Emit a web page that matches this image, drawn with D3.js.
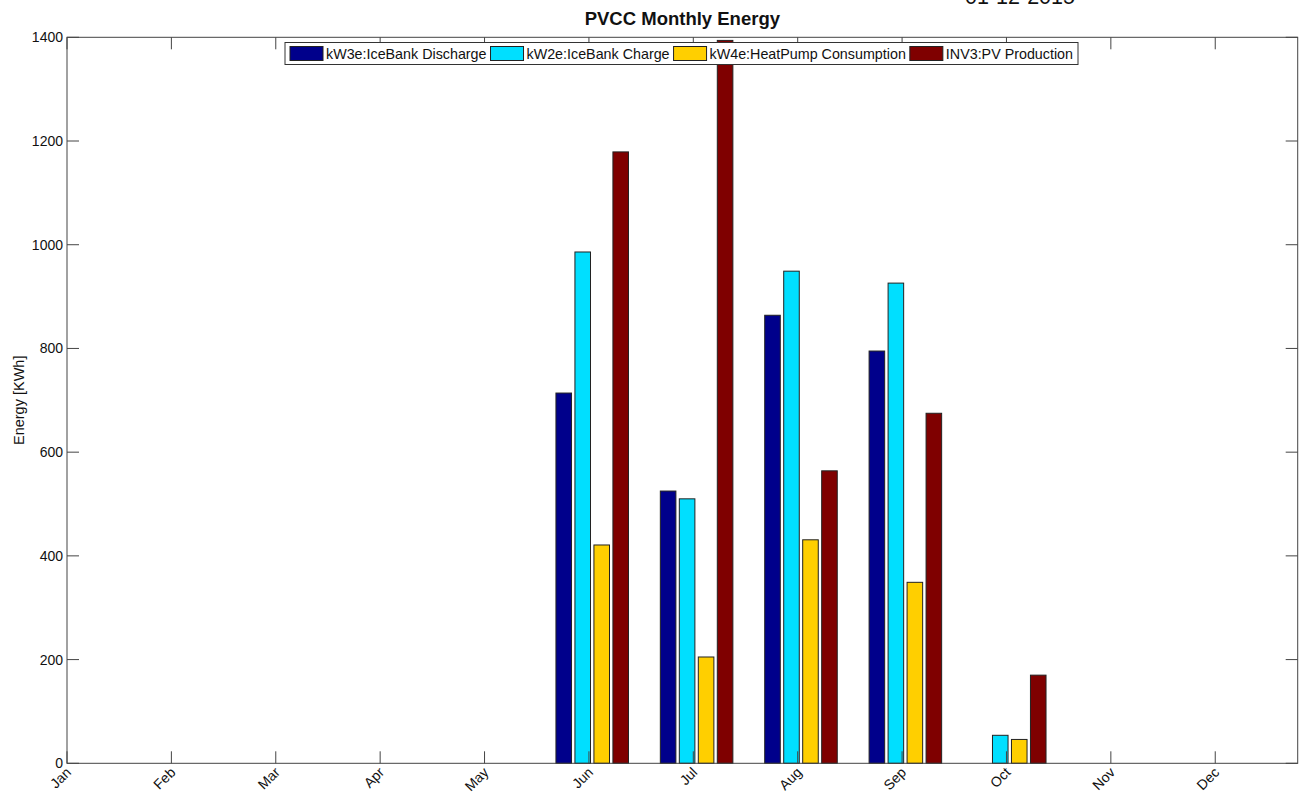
<!DOCTYPE html>
<html>
<head>
<meta charset="utf-8">
<script src="https://cdn.jsdelivr.net/npm/d3@7"></script>
<style>
  body { margin: 0; background: #fff; }
  text { font-family: "Liberation Sans", Arial, sans-serif; }
</style>
</head>
<body>
<script>
// Chart size
let w = 1306;
let h = 794;

// Data
let months = ["Jan", "Feb", "Mar", "Apr", "May", "Jun", "Jul", "Aug", "Sep", "Oct", "Nov", "Dec"];
let seriesNames = ["kW3e:IceBank Discharge", "kW2e:IceBank Charge", "kW4e:HeatPump Consumption", "INV3:PV Production"];
let seriesColors = ["#00008b", "#00dfff", "#ffcf00", "#7f0000"];
let iceDischarge = [0, 0, 0, 0, 0, 714, 525, 864, 795, 0, 0, 0];
let iceCharge = [0, 0, 0, 0, 0, 986, 510, 949, 926, 54, 0, 0];
let heatPump = [0, 0, 0, 0, 0, 421, 205, 431, 349, 46, 0, 0];
let pvProduction = [0, 0, 0, 0, 0, 1179, 1394, 564, 675, 170, 0, 0];
let yTicks = [0, 200, 400, 600, 800, 1000, 1200, 1400];

let allSeries = [iceDischarge, iceCharge, heatPump, pvProduction];

// Plot area
let pLeft = 67, pRight = 1297.7, pTop = 37.3, pBottom = 763.3;

let svg = d3.select("body").append("svg")
    .attr("width", w)
    .attr("height", h);

// month index 1..12, axis runs a bit past Dec like the original
let x = d3.scaleLinear().domain([1, 12.79]).range([pLeft, pRight]);
let y = d3.scaleLinear().domain([0, 1400]).range([pBottom, pTop]);

// offsets of the four bars inside one month group (in month units)
let inner = d3.scaleBand().domain(d3.range(4)).range([-0.316, 0.379]).paddingInner(0.18);

// bars
let bars = [];
allSeries.forEach(function (vals, s) {
    vals.forEach(function (v, m) {
        if (v > 0) bars.push({ s: s, m: m + 1, v: v });
    });
});

svg.append("g").selectAll("rect").data(bars).enter().append("rect")
    .attr("x", d => x(d.m + inner(d.s)))
    .attr("width", d => x(d.m + inner(d.s) + inner.bandwidth()) - x(d.m + inner(d.s)))
    .attr("y", d => y(d.v))
    .attr("height", d => y(0) - y(d.v))
    .attr("fill", d => seriesColors[d.s])
    .attr("stroke", "#222")
    .attr("stroke-width", 1);

// box and ticks
let axisColor = "#444";
svg.append("rect")
    .attr("x", pLeft).attr("y", pTop)
    .attr("width", pRight - pLeft).attr("height", pBottom - pTop)
    .attr("fill", "none").attr("stroke", axisColor).attr("stroke-width", 1);

let tl = 12;
let monthIdx = d3.range(1, 13);
let g = svg.append("g").attr("stroke", axisColor).attr("stroke-width", 1);
monthIdx.forEach(function (m) {
    g.append("line").attr("x1", x(m)).attr("x2", x(m)).attr("y1", pBottom).attr("y2", pBottom - tl);
    g.append("line").attr("x1", x(m)).attr("x2", x(m)).attr("y1", pTop).attr("y2", pTop + tl);
});
yTicks.forEach(function (t) {
    g.append("line").attr("x1", pLeft).attr("x2", pLeft + tl).attr("y1", y(t)).attr("y2", y(t));
    g.append("line").attr("x1", pRight).attr("x2", pRight - tl).attr("y1", y(t)).attr("y2", y(t));
});

// y tick labels
svg.append("g").selectAll("text").data(yTicks).enter().append("text")
    .attr("x", pLeft - 4)
    .attr("y", d => y(d) + 5)
    .attr("text-anchor", "end")
    .attr("font-size", 14)
    .attr("fill", "#111")
    .text(d => d);

// x tick labels, rotated
svg.append("g").selectAll("text").data(monthIdx).enter().append("text")
    .attr("text-anchor", "end")
    .attr("font-size", 14)
    .attr("fill", "#111")
    .attr("transform", d => "translate(" + (x(d) + 5) + "," + (pBottom + 10) + ") rotate(-45)")
    .text(d => months[d - 1]);

// y label
svg.append("text")
    .attr("transform", "translate(24," + ((pTop + pBottom) / 2) + ") rotate(-90)")
    .attr("text-anchor", "middle")
    .attr("font-size", 14.5)
    .attr("fill", "#111")
    .text("Energy [KWh]");

// title
svg.append("text")
    .attr("x", (pLeft + pRight) / 2)
    .attr("y", 25)
    .attr("text-anchor", "middle")
    .attr("font-size", 18.5)
    .attr("font-weight", "bold")
    .attr("fill", "#111")
    .text("PVCC Monthly Energy");

// date stamp, mostly cut at the top
svg.append("text")
    .attr("x", 965)
    .attr("y", 4)
    .attr("font-size", 21.5)
    .attr("fill", "#111")
    .text("01-12-2015");

// legend
let lg = svg.append("g");
let box = lg.append("rect")
    .attr("y", 42.5).attr("height", 22)
    .attr("fill", "#fff").attr("stroke", "#333").attr("stroke-width", 1);
let lx = 290;
seriesNames.forEach(function (name, i) {
    lg.append("rect")
        .attr("x", lx).attr("y", 46.5).attr("width", 33).attr("height", 14)
        .attr("fill", seriesColors[i]).attr("stroke", "#222").attr("stroke-width", 1);
    let t = lg.append("text")
        .attr("x", lx + 36).attr("y", 58.5)
        .attr("font-size", 14.3)
        .attr("fill", "#111")
        .text(name);
    lx = lx + 36 + t.node().getComputedTextLength() + 4;
});
box.attr("x", 285).attr("width", lx - 285 + 1);
</script>
</body>
</html>
